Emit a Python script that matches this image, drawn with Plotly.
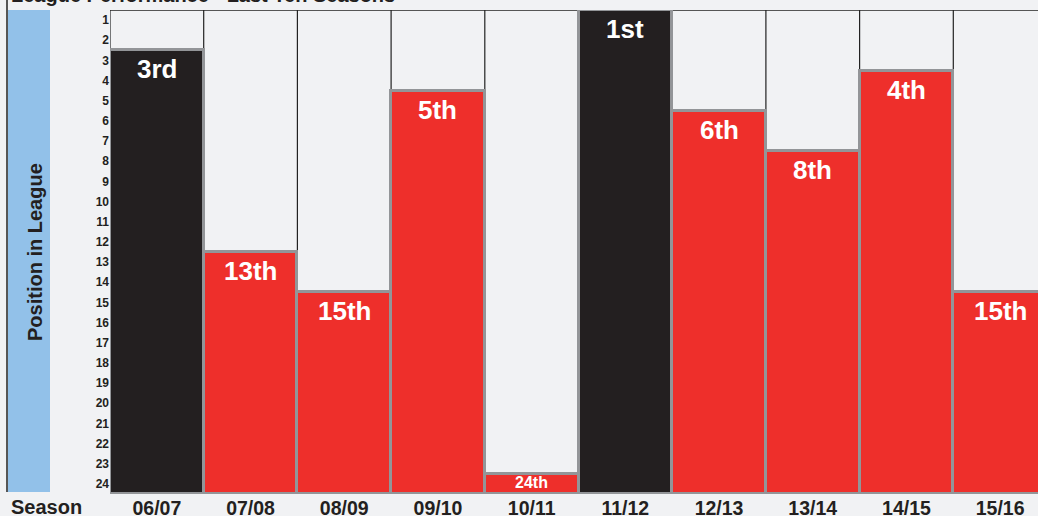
import plotly.graph_objects as go

seasons = ["06/07", "07/08", "08/09", "09/10", "10/11", "11/12", "12/13", "13/14", "14/15", "15/16"]
positions = [3, 13, 15, 5, 24, 1, 6, 8, 4, 15]
labels = ["3rd", "13th", "15th", "5th", "24th", "1st", "6th", "8th", "4th", "15th"]
rank_ticks = list(range(1, 25))

TEAMS = 24
BLACK = "#231f20"
RED = "#ee2f2b"
GREY = "#939598"
BG = "#f1f2f4"
FONT = "Liberation Sans, Arial, sans-serif"

bottom = TEAMS + 0.5
colors = [BLACK if p <= 3 else RED for p in positions]

fig = go.Figure()
fig.add_trace(go.Bar(
    x=seasons,
    y=[(p - 0.5) - bottom for p in positions],
    base=[bottom] * len(positions),
    marker=dict(color=colors, line=dict(color=GREY, width=3)),
    hoverinfo="skip",
))

PW = 928
shapes = []
for i in range(len(seasons) + 1):
    shapes.append(dict(type="line", xref="x", yref="y", x0=i - 0.5, x1=i - 0.5,
                       y0=0.5, y1=bottom, line=dict(color="#222222", width=1.2), layer="below"))
shapes.append(dict(type="line", xref="paper", yref="y", x0=0, x1=1, y0=0.5, y1=0.5,
                   line=dict(color="#222222", width=1.5), layer="below"))
shapes.append(dict(type="rect", xref="paper", yref="paper", x0=-102 / PW, x1=-60 / PW,
                   y0=0.004, y1=1, fillcolor="#92c1e9", line=dict(width=0), layer="below"))
shapes.append(dict(type="line", xref="paper", yref="paper", x0=-103 / PW, x1=-103 / PW,
                   y0=0.004, y1=1.03, line=dict(color="#222222", width=1.5), layer="below"))

annotations = []
for s, p, lab in zip(seasons, positions, labels):
    height = bottom - (p - 0.5)
    if height < 2:
        annotations.append(dict(x=s, y=(p - 0.5 + bottom) / 2, text="<b>" + lab + "</b>",
                                showarrow=False, yanchor="middle", yshift=1,
                                font=dict(family=FONT, size=16, color="white")))
    else:
        annotations.append(dict(x=s, y=p - 0.5, text="<b>" + lab + "</b>", showarrow=False,
                                yanchor="top", yshift=-2,
                                font=dict(family=FONT, size=26, color="white")))

annotations.append(dict(xref="paper", yref="paper", x=-75 / PW, y=0.5, xanchor="center",
                        yanchor="middle",
                        text="<b>Position in League</b>", textangle=-90, showarrow=False,
                        font=dict(family=FONT, size=20, color=BLACK)))
annotations.append(dict(xref="paper", yref="paper", x=-101 / PW, y=0, xanchor="left",
                        yanchor="top", yshift=0, text="<b>Season</b>", showarrow=False,
                        font=dict(family=FONT, size=20, color=BLACK)))
annotations.append(dict(xref="paper", yref="paper", x=-101 / PW, y=1, xanchor="left",
                        yanchor="bottom", yshift=2, text="<b>League Performance - Last Ten Seasons</b>",
                        showarrow=False, font=dict(family=FONT, size=20, color=BLACK)))

fig.update_layout(
    width=1038, height=516,
    margin=dict(l=110, r=0, t=10, b=22, autoexpand=False),
    paper_bgcolor=BG, plot_bgcolor=BG,
    bargap=0, showlegend=False,
    shapes=shapes, annotations=annotations,
    xaxis=dict(type="category", range=[-0.5, 9.404], showgrid=False, zeroline=False,
               ticks="", tickfont=dict(family=FONT, size=19.5, color=BLACK), fixedrange=True,
               tickprefix="<b>", ticksuffix="</b>", automargin=False),
    yaxis=dict(range=[bottom, 0.5], tickvals=rank_ticks, ticktext=[f"<b>{t}</b>" for t in rank_ticks],
               showgrid=False, zeroline=False, ticks="", showline=False, automargin=False,
               tickfont=dict(family=FONT, size=12, color=BLACK), fixedrange=True),
)

fig.write_html("out.html", config={"displayModeBar": False},
               post_script="document.body.style.margin='0px';document.body.style.overflow='hidden';")
